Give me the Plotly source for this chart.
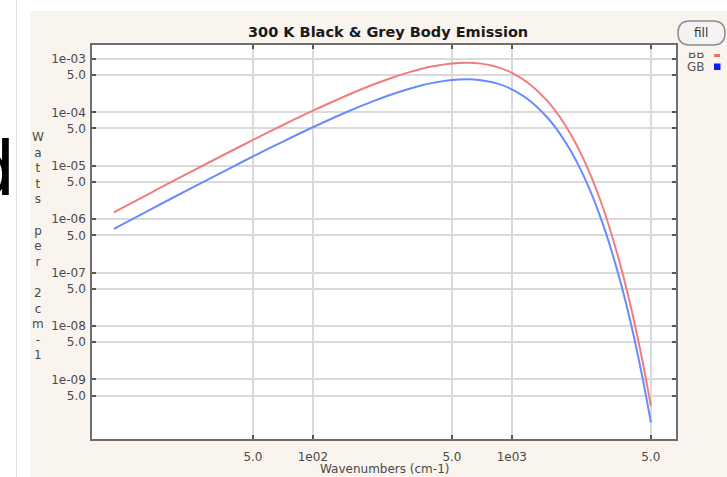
import plotly.graph_objects as go

# ---- data ----
wavenumbers = [10, 15, 20, 30, 40, 50, 70, 100, 150, 200, 250, 300, 350, 400,
               500, 600, 700, 800, 900, 1000, 1200, 1500, 1750, 2000, 2250,
               2500, 2750, 3000, 3500, 4000, 4500, 5000]
bb_watts = [1.35e-6, 3.0e-6, 5.26e-6, 1.155e-5, 2.0e-5, 3.05e-5, 5.69e-5, 1.076e-4,
            2.12e-4, 3.29e-4, 4.46e-4, 5.56e-4, 6.51e-4, 7.29e-4,
            8.27e-4, 8.53e-4, 8.19e-4, 7.47e-4, 6.53e-4, 5.51e-4,
            3.63e-4, 1.68e-4, 8.03e-5, 3.6e-5, 1.55e-5, 6.4e-6, 2.58e-6, 1.01e-6,
            1.45e-7, 1.97e-8, 2.55e-9, 3.2e-10]
gb_watts = [6.6e-7, 1.47e-6, 2.58e-6, 5.66e-6, 9.8e-6, 1.5e-5, 2.79e-5, 5.27e-5,
            1.04e-4, 1.61e-4, 2.19e-4, 2.72e-4, 3.19e-4, 3.57e-4,
            4.05e-4, 4.18e-4, 4.01e-4, 3.66e-4, 3.2e-4, 2.7e-4,
            1.78e-4, 8.2e-5, 3.93e-5, 1.77e-5, 7.6e-6, 3.14e-6, 1.26e-6, 4.94e-7,
            7.1e-8, 9.7e-9, 1.25e-9, 1.56e-10]

x_tickvals = [50, 100, 500, 1000, 5000]
x_ticktext = ["5.0", "1e02", "5.0", "1e03", "5.0"]
y_tickvals = [1e-3, 5e-4, 1e-4, 5e-5, 1e-5, 5e-6, 1e-6, 5e-7,
              1e-7, 5e-8, 1e-8, 5e-9, 1e-9, 5e-10]
y_ticktext = ["1e-03", "5.0", "1e-04", "5.0", "1e-05", "5.0", "1e-06", "5.0",
              "1e-07", "5.0", "1e-08", "5.0", "1e-09", "5.0"]
series_names = ["BB", "GB"]
title_text = "300 K Black & Grey Body Emission"
x_title = "Wavenumbers (cm-1)"
y_title_chars = ["W", "a", "t", "t", "s", "\u00a0", "p", "e", "r", "\u00a0",
                 "2", "c", "m", "-", "1"]

# ---- page geometry (pixels) ----
W, H = 727, 477
L, R, T, B = 92, 676, 45, 439
PW, PH = R - L, B - T


def px(x):
    return (x - L) / PW


def py(y):
    return (B - y) / PH


BEIGE = "#f9f4ee"
RED = "#f27c7c"
BLUE = "#6a8bff"

fig = go.Figure()
fig.add_trace(go.Scatter(x=wavenumbers, y=bb_watts, mode="lines", name=series_names[0],
                         line=dict(color=RED, width=2, shape="spline")))
fig.add_trace(go.Scatter(x=wavenumbers, y=gb_watts, mode="lines", name=series_names[1],
                         line=dict(color=BLUE, width=2, shape="spline")))

tickfont = dict(family="DejaVu Sans", size=12, color="#4a4a4a")

fig.update_layout(
    width=W, height=H,
    margin=dict(l=L, r=W - R, t=T, b=H - B, pad=0),
    paper_bgcolor=BEIGE,
    plot_bgcolor="white",
    showlegend=False,
    xaxis=dict(type="log", range=[0.890, 3.825], tickvals=x_tickvals, ticktext=x_ticktext,
               showgrid=True, gridcolor="#dadada", gridwidth=1.5,
               showline=True, linecolor="#6e6e6e", linewidth=1.5, mirror="ticks",
               ticks="inside", ticklen=4, tickwidth=1.5, tickcolor="#555",
               tickfont=tickfont, ticklabelstandoff=6, zeroline=False),
    yaxis=dict(type="log", range=[-10.114, -2.738], tickvals=y_tickvals, ticktext=y_ticktext,
               showgrid=True, gridcolor="#dadada", gridwidth=1.5,
               showline=True, linecolor="#6e6e6e", linewidth=1.5, mirror="ticks",
               ticks="inside", ticklen=4, tickwidth=1.5, tickcolor="#555",
               tickfont=tickfont, ticklabelstandoff=2, zeroline=False),
)

shapes = []
# white strips outside the beige panel
shapes.append(dict(type="rect", xref="paper", yref="paper", x0=px(-5), x1=px(30),
                   y0=py(H + 5), y1=py(-5), fillcolor="white", line=dict(width=0), layer="above"))
shapes.append(dict(type="rect", xref="paper", yref="paper", x0=px(-5), x1=px(W + 5),
                   y0=py(11), y1=py(-5), fillcolor="white", line=dict(width=0), layer="above"))
# faint vertical divider
shapes.append(dict(type="line", xref="paper", yref="paper", x0=px(16.5), x1=px(16.5),
                   y0=py(H), y1=py(0), line=dict(color="#e2e2e2", width=1), layer="above"))
# "fill" pill button
x0b, x1b, y0b, y1b = 678, 725, 21, 45
rb = (y1b - y0b) / 2
ym = (y0b + y1b) / 2
path = (f"M {px(x0b + rb)},{py(y0b)} L {px(x1b - rb)},{py(y0b)} "
        f"Q {px(x1b)},{py(y0b)} {px(x1b)},{py(ym)} "
        f"Q {px(x1b)},{py(y1b)} {px(x1b - rb)},{py(y1b)} "
        f"L {px(x0b + rb)},{py(y1b)} "
        f"Q {px(x0b)},{py(y1b)} {px(x0b)},{py(ym)} "
        f"Q {px(x0b)},{py(y0b)} {px(x0b + rb)},{py(y0b)} Z")
shapes.append(dict(type="path", xref="paper", yref="paper", path=path,
                   fillcolor="#f3f3f3", line=dict(color="#8a8a8a", width=1.5), layer="above"))
# legend colour marks
shapes.append(dict(type="rect", xref="paper", yref="paper", x0=px(714), x1=px(720),
                   y0=py(57), y1=py(54), fillcolor="#f07070", line=dict(width=0), layer="above"))
shapes.append(dict(type="rect", xref="paper", yref="paper", x0=px(714), x1=px(720.5),
                   y0=py(70), y1=py(63.5), fillcolor="#0a1cff", line=dict(width=0), layer="above"))
fig.update_layout(shapes=shapes)

ann = []
# title
ann.append(dict(text=f"<b>{title_text}</b>", x=px(388), y=py(32), xref="paper", yref="paper",
                showarrow=False, xanchor="center", yanchor="middle",
                font=dict(family="DejaVu Sans", size=14.5, color="#1a1a1a")))
# x axis title
ann.append(dict(text=x_title, x=px(384), y=py(469), xref="paper", yref="paper",
                showarrow=False, xanchor="center", yanchor="middle",
                font=dict(family="DejaVu Sans", size=12, color="#4a4a4a")))
# y axis title (stacked characters)
ann.append(dict(text="<br>".join(y_title_chars), x=px(38), y=py(246), xref="paper", yref="paper",
                showarrow=False, xanchor="center", yanchor="middle", align="center",
                font=dict(family="DejaVu Sans", size=12, color="#4a4a4a")))
# legend labels
ann.append(dict(text=series_names[0], x=px(696), y=py(54), xref="paper", yref="paper",
                showarrow=False, xanchor="center", yanchor="middle",
                font=dict(family="DejaVu Sans", size=12, color="#555")))
ann.append(dict(text=series_names[1], x=px(696), y=py(67), xref="paper", yref="paper",
                showarrow=False, xanchor="center", yanchor="middle",
                font=dict(family="DejaVu Sans", size=12, color="#555")))
# clip cover over top half of first legend label
ann.append(dict(text=" ", x=px(696), y=py(50), xref="paper", yref="paper",
                showarrow=False, xanchor="center", yanchor="middle",
                width=26, height=5, borderpad=0, bgcolor=BEIGE,
                font=dict(size=3, color=BEIGE)))
# button label
ann.append(dict(text="fill", x=px(701), y=py(32.5), xref="paper", yref="paper",
                showarrow=False, xanchor="center", yanchor="middle",
                font=dict(family="DejaVu Sans", size=12, color="#333")))
# large partial glyph at the left edge
ann.append(dict(text="d", x=px(-8), y=py(169), xref="paper", yref="paper",
                showarrow=False, xanchor="center", yanchor="middle",
                font=dict(family="DejaVu Sans", size=75, color="black")))
fig.update_layout(annotations=ann)

fig.write_html("out.html")
